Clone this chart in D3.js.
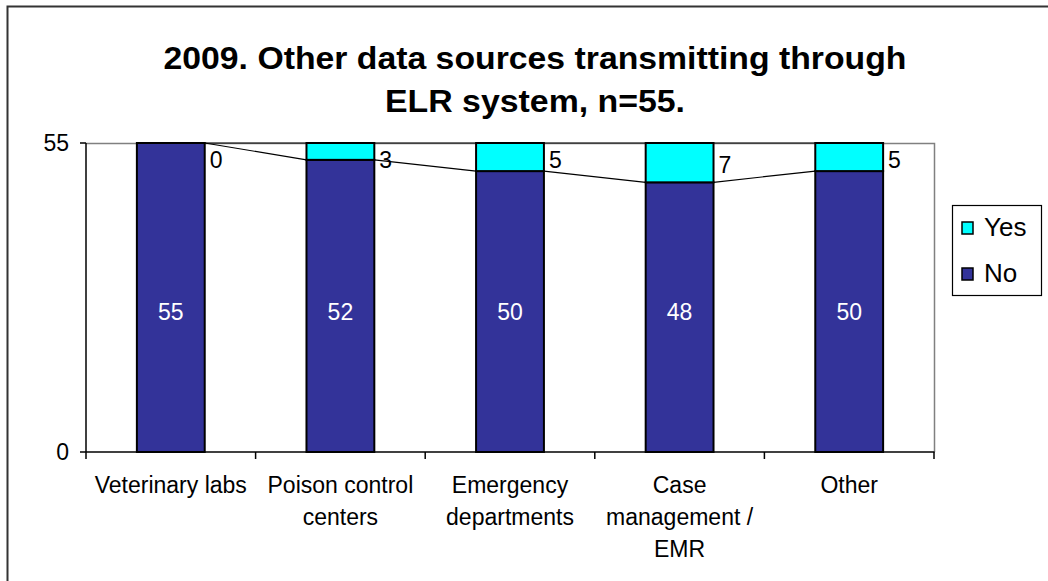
<!DOCTYPE html>
<html><head><meta charset="utf-8">
<script src="https://cdn.jsdelivr.net/npm/d3@7"></script>
<style>body{margin:0;background:#fff}svg{display:block}text{font-family:"Liberation Sans",Arial,sans-serif}</style>
</head><body><svg id="c" width="1048" height="581"></svg>
<script>
const categories = [["Veterinary labs"],["Poison control","centers"],["Emergency","departments"],["Case","management /","EMR"],["Other"]];
const noValues = [55,52,50,48,50];
const yesValues = [0,3,5,7,5];
const seriesNames = ["Yes","No"];
const yTicks = [0,55];
const titleLines = ["2009. Other data sources transmitting through","ELR system, n=55."];

const svg = d3.select("#c");
const L=86,R=934,T=143,B=452;
const ids = categories.map((c,i)=>i);
const x = d3.scaleBand().domain(ids).range([L,R]).paddingInner(0.6).paddingOuter(0.3);
const y = d3.scaleLinear().domain([0,55]).range([B,T]);
const step = x.step();

// outer border
svg.append("rect").attr("x",7.5).attr("y",6.5).attr("width",1100).attr("height",700).attr("fill","none").attr("stroke","#333").attr("stroke-width",2);

// title
const tW = [743, 300];
titleLines.forEach((t,k)=>{
  svg.append("text").attr("x",535).attr("y",69+k*43).attr("text-anchor","middle")
    .attr("font-size",31).attr("font-weight","bold")
    .attr("textLength",tW[k]).attr("lengthAdjust","spacingAndGlyphs").text(t);
});

// plot area border (gray top/right)
svg.append("path").attr("d",`M${L},${T+0.5}H${R+0.5}V${B}`).attr("fill","none").attr("stroke","#808080").attr("stroke-width",1.5);

// series lines
const lineG = svg.append("g").attr("stroke","#000").attr("stroke-width",1.2).attr("fill","none");
for(let i=0;i<ids.length-1;i++){
  lineG.append("line").attr("x1",x(i)+x.bandwidth()).attr("x2",x(i+1))
    .attr("y1",y(noValues[i])).attr("y2",y(noValues[i+1]));
  lineG.append("line").attr("x1",x(i)+x.bandwidth()).attr("x2",x(i+1))
    .attr("y1",y(noValues[i]+yesValues[i])).attr("y2",y(noValues[i+1]+yesValues[i+1]));
}

// bars
const bars = svg.append("g");
ids.forEach(i=>{
  bars.append("rect").attr("x",x(i)).attr("width",x.bandwidth())
    .attr("y",y(noValues[i])).attr("height",y(0)-y(noValues[i]))
    .attr("fill","#333399").attr("stroke","#000").attr("stroke-width",2);
  if(yesValues[i]>0) bars.append("rect").attr("x",x(i)).attr("width",x.bandwidth())
    .attr("y",y(noValues[i]+yesValues[i])).attr("height",y(noValues[i])-y(noValues[i]+yesValues[i]))
    .attr("fill","#00FFFF").attr("stroke","#000").attr("stroke-width",2);
});

// axes
const ax = svg.append("g").attr("stroke","#000").attr("stroke-width",1.5);
ax.append("line").attr("x1",L).attr("x2",L).attr("y1",T).attr("y2",B);
ax.append("line").attr("x1",L).attr("x2",R+0.5).attr("y1",B).attr("y2",B);
yTicks.forEach(t=>{
  ax.append("line").attr("x1",L-6).attr("x2",L).attr("y1",y(t)).attr("y2",y(t));
  svg.append("text").attr("x",L-17).attr("y",y(t)+8).attr("text-anchor","end").attr("font-size",23).text(t);
});
for(let i=0;i<=ids.length;i++){
  const xx = L + step*i;
  ax.append("line").attr("x1",xx).attr("x2",xx).attr("y1",B).attr("y2",B+7);
}
categories.forEach((lines,i)=>{
  const cx = x(i)+x.bandwidth()/2;
  lines.forEach((ln,j)=>{
    svg.append("text").attr("x",cx).attr("y",493+j*32).attr("text-anchor","middle").attr("font-size",23).text(ln);
  });
});

// data labels
ids.forEach(i=>{
  const cx = x(i)+x.bandwidth()/2;
  svg.append("text").attr("x",cx).attr("y",(T+B)/2+22).attr("text-anchor","middle").attr("font-size",23).attr("fill","#fff").text(noValues[i]);
  const top = y(noValues[i]+yesValues[i]);
  const mid = (y(noValues[i])+top)/2;
  const ly = Math.max(mid+2, top+17);
  svg.append("text").attr("x",x(i)+x.bandwidth()+5).attr("y",ly+8).attr("font-size",23).attr("fill","#000").text(yesValues[i]);
});

// legend
const lg = svg.append("g");
lg.append("rect").attr("x",952.5).attr("y",205.5).attr("width",89).attr("height",90).attr("fill","#fff").attr("stroke","#000").attr("stroke-width",1.2);
const legColors = ["#00FFFF","#333399"];
seriesNames.forEach((s,k)=>{
  const yy = 222 + k*46;
  lg.append("rect").attr("x",962).attr("y",yy).attr("width",11).attr("height",12).attr("fill",legColors[k]).attr("stroke","#000").attr("stroke-width",1.5);
  lg.append("text").attr("x",984).attr("y",yy+14).attr("font-size",26).text(s);
});
</script></body></html>
